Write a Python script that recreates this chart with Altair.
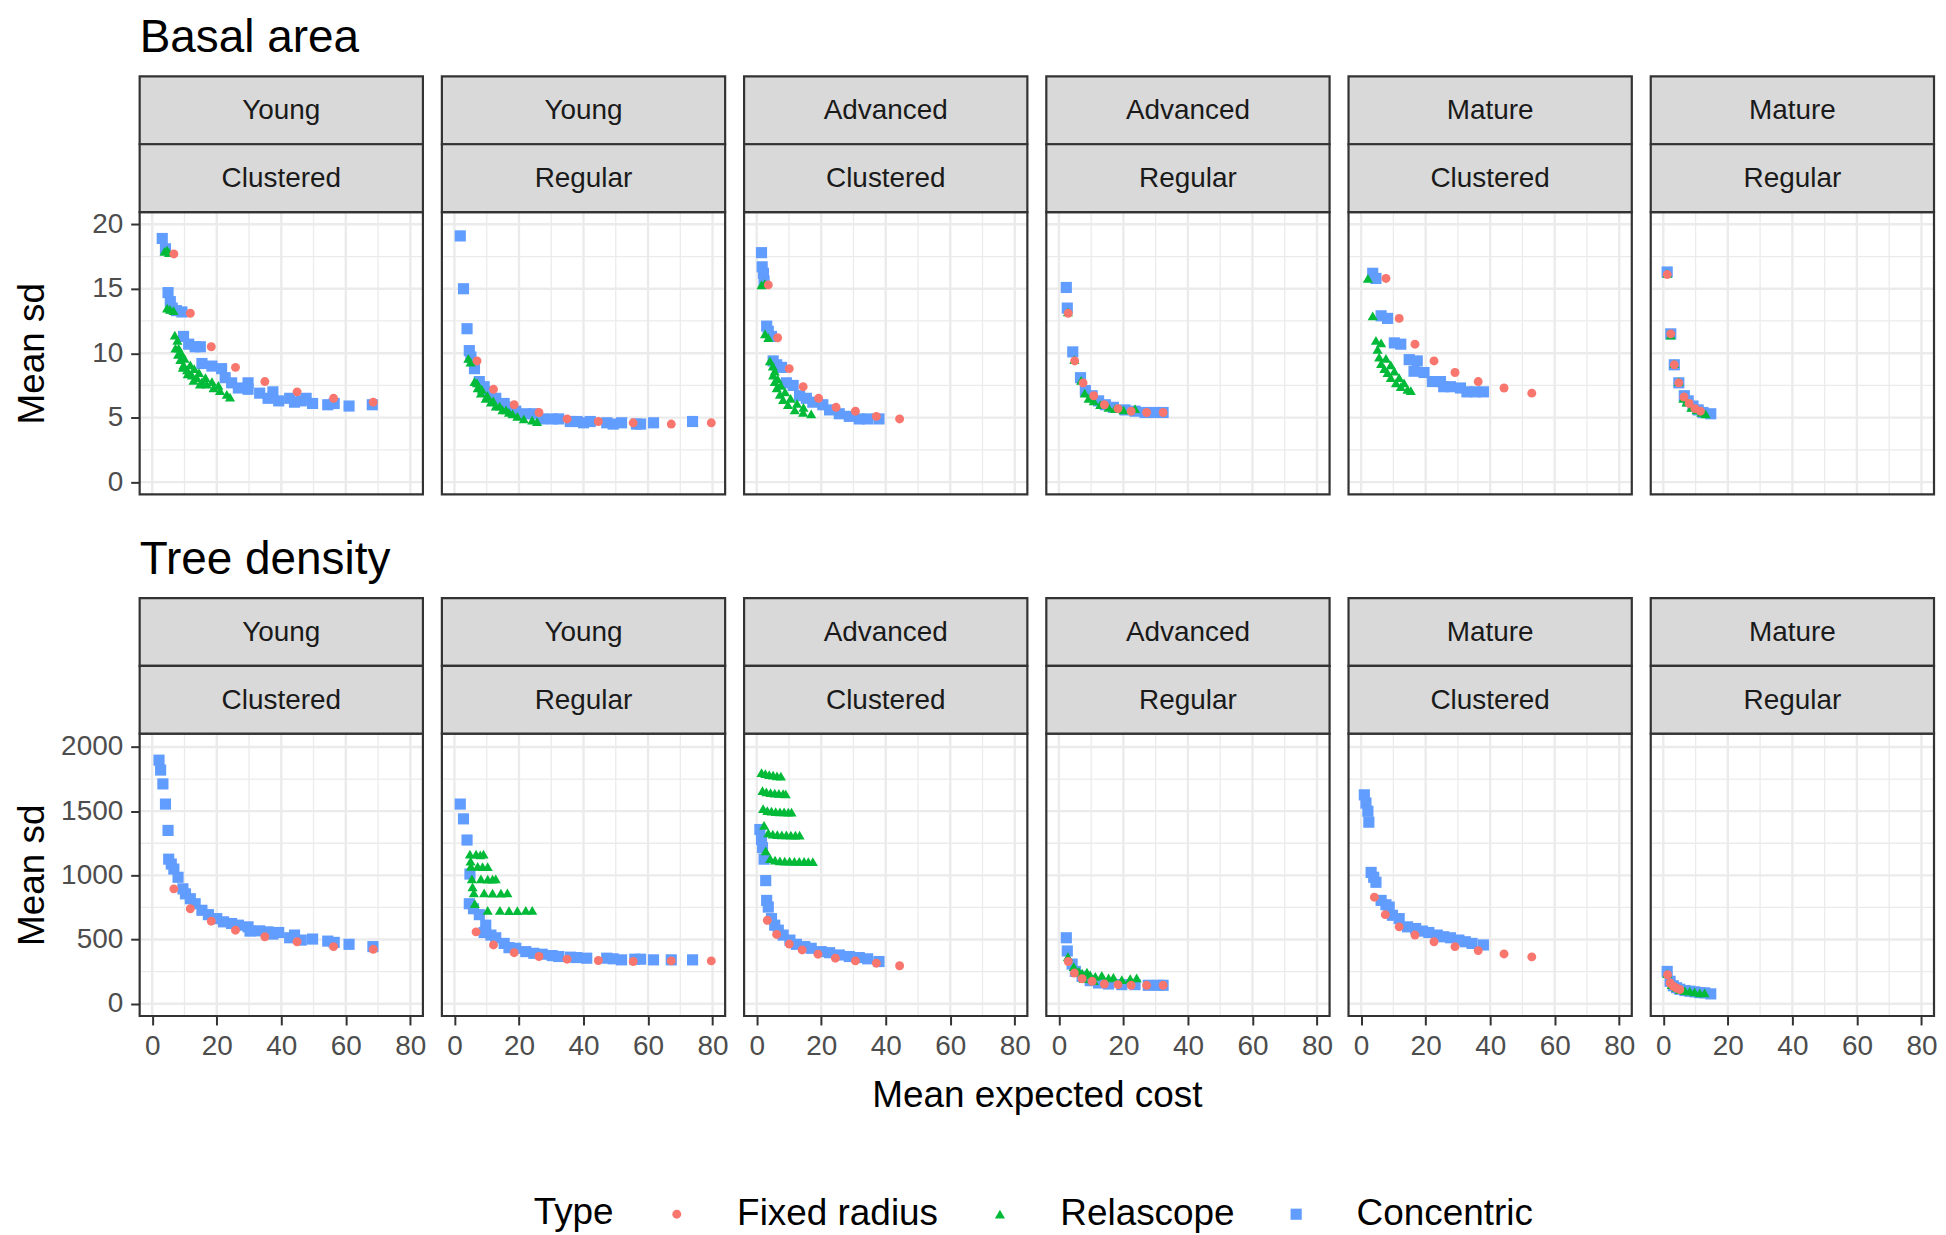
import altair as alt
import pandas as pd

FONT = "Liberation Sans"

TYPES = ["Fixed radius", "Relascope", "Concentric"]
TYPE_COLORS = ["#F8766D", "#00BA38", "#619CFF"]
TYPE_SHAPES = ["circle", "triangle-up", "square"]
TYPE_SIZES = [80, 125, 78]
DRAW_ORDER = ["Concentric", "Relascope", "Fixed radius"]

AGES = ["Young", "Young", "Advanced", "Advanced", "Mature", "Mature"]
PATTERNS = ["Clustered", "Regular", "Clustered", "Regular", "Clustered", "Regular"]

X_MAJOR = [0, 20, 40, 60, 80]
X_MINOR = [10, 30, 50, 70]
X_DOMAIN = [-3.9, 83.9]
BA_MAJOR = [0, 5, 10, 15, 20]
BA_MINOR = [2.5, 7.5, 12.5, 17.5]
BA_DOMAIN = [-0.95, 20.95]
TD_MAJOR = [0, 500, 1000, 1500, 2000]
TD_MINOR = [250, 750, 1250, 1750]
TD_DOMAIN = [-95, 2103]

# ---------------- Basal area ----------------
BA_YC_CONC = [(3.1, 18.9), (4.1, 18.1), (4.9, 14.7), (5.6, 14.0), (6.2, 13.5), (7.5, 13.3), (9.2, 13.2),
              (9.7, 11.3), (11.3, 10.7), (13.3, 10.5), (14.9, 10.5), (15.4, 9.2), (18.5, 9.0), (21.5, 8.8),
              (22.6, 8.1), (24.6, 7.7), (26.7, 7.3), (29.7, 7.7), (29.7, 7.2), (33.3, 6.9), (35.9, 6.5),
              (37.4, 7.0), (39.2, 6.3), (42.6, 6.5), (44.1, 6.2), (46.2, 6.3), (47.7, 6.5), (49.7, 6.1),
              (54.4, 6.0), (56.4, 6.1), (61.0, 5.9), (68.2, 6.0)]
BA_YC_FIXED = [(6.7, 17.7), (11.8, 13.1), (18.3, 10.5), (25.8, 8.9), (34.9, 7.8), (44.9, 7.0), (56.2, 6.5), (68.5, 6.2)]
BA_YC_RELA = [(3.8, 17.9), (4.6, 18.0), (5.2, 17.8), (4.6, 13.5), (5.5, 13.4), (6.6, 13.3), (7.0, 11.4), (7.8, 11.0),
              (7.2, 10.4), (8.0, 9.9), (8.7, 9.5), (9.7, 9.1), (10.8, 8.7), (12.3, 8.3), (13.8, 8.1), (15.4, 7.8),
              (16.9, 7.6), (19.0, 7.3), (21.0, 7.1), (23.1, 6.8), (24.1, 6.6), (8.2, 10.4), (9.0, 10.0),
              (10.0, 9.6), (11.8, 9.1), (13.0, 8.8), (14.5, 8.5), (16.5, 8.1), (18.5, 7.8), (20.5, 7.5),
              (9.5, 8.9), (11.0, 8.4), (12.8, 7.9), (14.8, 7.6)]

BA_YR_CONC = [(1.8, 19.1), (2.8, 15.0), (3.9, 11.9), (4.6, 10.2), (5.1, 9.7), (6.2, 8.8), (7.7, 7.8), (9.2, 7.4),
              (10.8, 7.0), (12.8, 6.5), (15.4, 6.1), (17.0, 5.8), (19.0, 5.5), (22.1, 5.3), (24.6, 5.3),
              (27.2, 4.9), (30.3, 4.9), (32.3, 4.9), (35.9, 4.7), (38.0, 4.7), (40.0, 4.6), (42.1, 4.7),
              (47.2, 4.6), (49.2, 4.5), (51.8, 4.6), (56.4, 4.5), (57.7, 4.5), (61.7, 4.6), (73.8, 4.7)]
BA_YR_FIXED = [(7.0, 9.4), (12.1, 7.2), (18.5, 6.0), (26.2, 5.4), (34.9, 4.9), (44.6, 4.7), (55.4, 4.6), (67.2, 4.5), (79.6, 4.6)]
BA_YR_RELA = [(4.3, 9.6), (5.0, 9.3), (6.2, 7.8), (7.2, 7.3), (8.2, 6.9), (9.7, 6.5), (11.3, 6.2), (12.8, 5.9),
              (14.9, 5.6), (16.9, 5.4), (19.5, 5.1), (21.5, 4.9), (24.1, 4.8), (25.6, 4.7), (7.0, 7.7),
              (8.5, 7.2), (10.2, 6.7), (12.0, 6.3), (14.0, 5.9), (16.0, 5.6), (18.0, 5.3)]

BA_AC_CONC = [(1.5, 17.8), (1.7, 16.7), (2.1, 16.2), (2.3, 15.6), (3.1, 12.1), (3.6, 11.7), (4.6, 11.3), (5.1, 9.4),
              (6.2, 9.1), (7.7, 8.9), (9.2, 7.7), (11.3, 7.5), (13.3, 6.7), (15.4, 6.5), (17.4, 6.2), (20.5, 6.0),
              (22.6, 5.6), (25.6, 5.3), (28.7, 5.1), (31.8, 4.9), (34.4, 4.9), (37.9, 4.9)]
BA_AC_FIXED = [(3.6, 15.3), (6.5, 11.2), (10.1, 8.8), (14.4, 7.4), (19.2, 6.5), (24.6, 5.8), (30.6, 5.5), (37.1, 5.1), (44.3, 4.9)]
BA_AC_RELA = [(1.5, 15.3), (2.5, 15.4), (2.6, 11.5), (3.6, 11.2), (4.1, 9.4), (5.0, 9.0), (5.1, 8.3), (5.6, 7.8),
              (6.2, 7.3), (7.2, 6.8), (8.2, 6.4), (9.7, 6.0), (11.8, 5.6), (14.4, 5.4), (16.9, 5.3), (5.6, 8.6),
              (6.5, 8.0), (7.5, 7.5), (8.8, 7.0), (10.5, 6.5), (12.5, 6.1), (14.5, 5.8)]

BA_AR_CONC = [(2.3, 15.1), (2.6, 13.5), (4.3, 10.1), (6.7, 8.1), (8.2, 7.1), (10.3, 6.7), (12.3, 6.3), (14.4, 6.0),
              (16.9, 5.8), (20.5, 5.6), (23.6, 5.5), (26.7, 5.4), (29.7, 5.4), (32.3, 5.4)]
BA_AR_FIXED = [(2.9, 13.1), (4.9, 9.4), (7.5, 7.7), (10.8, 6.7), (14.1, 6.0), (18.3, 5.7), (22.4, 5.5), (27.2, 5.4), (32.3, 5.4)]
BA_AR_RELA = [(2.8, 13.2), (4.8, 9.5), (6.9, 7.9), (8.0, 6.9), (9.2, 6.5), (10.8, 6.3), (12.8, 6.0), (15.4, 5.8),
              (17.4, 5.7), (20.0, 5.6), (23.6, 5.7)]

BA_MC_CONC = [(3.6, 16.2), (4.6, 15.8), (6.2, 12.9), (8.2, 12.7), (10.3, 10.8), (12.3, 10.7), (14.9, 9.5), (17.4, 9.4),
              (16.4, 8.6), (19.5, 8.5), (22.1, 7.8), (24.6, 7.8), (25.6, 7.4), (27.7, 7.4), (30.8, 7.3), (32.8, 7.0),
              (35.4, 7.0), (37.9, 7.0)]
BA_MC_FIXED = [(7.7, 15.8), (11.8, 12.7), (16.7, 10.7), (22.6, 9.4), (29.1, 8.5), (36.3, 7.8), (44.3, 7.3), (52.9, 6.9)]
BA_MC_RELA = [(2.1, 15.8), (3.6, 12.9), (4.6, 11.0), (6.2, 10.8), (5.1, 10.3), (5.6, 9.7), (6.2, 9.2), (7.2, 8.8),
              (8.2, 8.5), (9.2, 8.1), (10.8, 7.7), (12.3, 7.4), (14.4, 7.2), (15.4, 7.1), (7.7, 9.6), (9.2, 9.1),
              (10.3, 8.6), (11.8, 8.1), (13.3, 7.7)]

BA_MR_CONC = [(1.2, 16.3), (2.3, 11.5), (3.4, 9.1), (4.8, 7.7), (6.5, 6.7), (7.7, 6.3), (9.2, 5.9), (10.8, 5.6),
              (12.3, 5.4), (14.7, 5.3)]
BA_MR_FIXED = [(1.2, 16.1), (2.3, 11.5), (3.4, 9.1), (4.8, 7.7), (6.4, 6.6), (8.0, 6.1), (9.8, 5.7), (11.5, 5.5)]
BA_MR_RELA = [(1.2, 16.2), (2.3, 11.4), (3.4, 9.2), (4.8, 7.8), (6.2, 6.5), (7.2, 6.2), (8.7, 5.8), (10.3, 5.6),
              (11.8, 5.4), (13.1, 5.3)]

# ---------------- Tree density ----------------
TD_YC_CONC = [(2.1, 1897), (2.6, 1820), (3.3, 1712), (4.1, 1555), (4.9, 1350), (5.1, 1126), (5.9, 1088), (6.7, 1049),
              (8.0, 985), (9.5, 895), (10.3, 856), (11.8, 818), (13.3, 779), (15.4, 728), (17.4, 694), (20.0, 663),
              (22.1, 638), (24.6, 625), (26.7, 612), (29.7, 599), (30.3, 566), (33.3, 568), (35.9, 560),
              (37.4, 543), (39.2, 555), (42.6, 514), (44.1, 535), (46.2, 496), (49.7, 504), (54.4, 488),
              (56.4, 478), (61.0, 463), (68.4, 445)]
TD_YC_FIXED = [(6.7, 895), (11.8, 740), (18.3, 643), (25.8, 573), (34.9, 522), (44.9, 483), (56.2, 445), (68.5, 424)]
TD_YC_RELA = []

TD_YR_CONC = [(1.8, 1555), (2.8, 1440), (3.9, 1275), (4.8, 1010), (4.6, 779), (5.9, 740), (7.7, 694), (9.7, 612),
              (9.2, 555), (11.3, 535), (12.8, 514), (15.4, 470), (16.9, 437), (19.0, 432), (22.1, 406), (24.6, 393),
              (27.2, 386), (30.3, 375), (32.3, 368), (35.9, 363), (37.9, 360), (41.0, 355), (47.2, 355),
              (49.2, 350), (51.8, 342), (55.9, 347), (57.7, 347), (61.7, 342), (67.2, 342), (73.8, 342)]
TD_YR_FIXED = [(6.7, 560), (12.1, 458), (18.5, 398), (26.2, 368), (34.9, 347), (44.6, 337), (55.4, 329), (67.2, 334), (79.6, 334)]
TD_YR_RELA = [(4.8, 1165), (6.7, 1165), (8.0, 1160), (9.0, 1165),
              (5.1, 1070), (7.2, 1070), (8.7, 1068), (10.3, 1068),
              (5.4, 972), (8.2, 972), (10.3, 970), (11.8, 970), (12.8, 972),
              (6.0, 864), (9.2, 864), (11.8, 862), (14.4, 862), (16.4, 864),
              (6.3, 780), (10.3, 728), (14.1, 728), (16.9, 725), (19.5, 725), (22.1, 728), (24.1, 728),
              (5.0, 1110), (5.6, 910)]

TD_AC_CONC = [(1.0, 1357), (1.5, 1280), (1.8, 1216), (2.3, 1126), (2.8, 959), (3.1, 805), (3.6, 753), (4.6, 663),
              (5.6, 612), (6.7, 573), (8.2, 535), (10.3, 496), (12.3, 463), (14.9, 445), (16.9, 432), (20.0, 406),
              (22.6, 398), (25.6, 380), (28.7, 368), (31.8, 360), (34.4, 350), (37.9, 329)]
TD_AC_FIXED = [(3.3, 650), (6.2, 540), (10.1, 465), (14.1, 419), (19.0, 386), (24.4, 355), (30.6, 334), (37.1, 316), (44.3, 296)]
TD_AC_RELA = [(1.5, 1800), (2.7, 1792), (3.9, 1785), (5.1, 1780), (6.3, 1775), (7.5, 1772),
              (1.8, 1660), (3.0, 1650), (4.3, 1645), (5.6, 1640), (6.9, 1638), (8.2, 1636), (9.0, 1635),
              (2.0, 1520), (3.3, 1505), (4.6, 1500), (5.9, 1497), (7.2, 1495), (8.5, 1494), (9.8, 1493), (10.8, 1493),
              (2.3, 1390), (3.6, 1330), (5.0, 1322), (6.4, 1318), (7.8, 1316), (9.2, 1315), (10.6, 1314),
              (12.0, 1314), (13.3, 1313),
              (2.8, 1190), (4.2, 1130), (5.7, 1118), (7.2, 1113), (8.7, 1111), (10.2, 1110), (11.7, 1109),
              (13.2, 1108), (14.7, 1108), (16.0, 1107), (17.4, 1107)]

TD_AR_CONC = [(2.3, 514), (2.6, 411), (4.1, 309), (5.1, 252), (7.2, 213), (9.7, 180), (12.3, 162), (15.4, 154),
              (19.5, 149), (23.6, 149), (27.7, 144), (30.8, 144), (32.3, 144)]
TD_AR_FIXED = [(2.9, 329), (4.8, 239), (7.2, 195), (10.3, 175), (14.1, 154), (18.3, 149), (22.4, 144), (27.2, 144), (32.3, 144)]
TD_AR_RELA = [(2.8, 368), (4.6, 290), (6.2, 252), (7.2, 239), (8.7, 247), (9.7, 226), (11.3, 213), (13.3, 221),
              (15.4, 201), (16.9, 206), (19.5, 188), (22.1, 195), (24.1, 201), (7.7, 195), (10.8, 180)]

TD_MC_CONC = [(1.0, 1627), (1.5, 1563), (2.1, 1499), (2.4, 1414), (3.1, 1023), (3.9, 985), (4.6, 946), (6.2, 805),
              (7.7, 771), (8.7, 753), (9.7, 689), (11.8, 663), (14.4, 599), (16.9, 586), (19.0, 566), (21.0, 555),
              (23.6, 535), (25.6, 522), (27.7, 514), (30.3, 496), (32.3, 483), (34.4, 470), (37.9, 458)]
TD_MC_FIXED = [(4.1, 830), (7.5, 694), (11.8, 599), (16.7, 535), (22.6, 483), (29.1, 445), (36.3, 414), (44.3, 388), (52.9, 365)]
TD_MC_RELA = []

TD_MR_CONC = [(1.2, 252), (2.1, 175), (3.1, 140), (4.1, 125), (5.1, 113), (6.7, 103), (8.2, 98), (9.7, 93),
              (11.3, 87), (12.8, 85), (14.7, 77)]
TD_MR_FIXED = [(1.3, 226), (2.1, 162), (3.1, 136), (4.1, 123), (5.1, 111)]
TD_MR_RELA = [(1.2, 234), (2.6, 149), (4.0, 128), (5.1, 111), (6.7, 103), (8.2, 98), (9.7, 93), (11.3, 85), (12.8, 85)]

BA_SERIES = [
    {"Concentric": BA_YC_CONC, "Relascope": BA_YC_RELA, "Fixed radius": BA_YC_FIXED},
    {"Concentric": BA_YR_CONC, "Relascope": BA_YR_RELA, "Fixed radius": BA_YR_FIXED},
    {"Concentric": BA_AC_CONC, "Relascope": BA_AC_RELA, "Fixed radius": BA_AC_FIXED},
    {"Concentric": BA_AR_CONC, "Relascope": BA_AR_RELA, "Fixed radius": BA_AR_FIXED},
    {"Concentric": BA_MC_CONC, "Relascope": BA_MC_RELA, "Fixed radius": BA_MC_FIXED},
    {"Concentric": BA_MR_CONC, "Relascope": BA_MR_RELA, "Fixed radius": BA_MR_FIXED},
]
TD_SERIES = [
    {"Concentric": TD_YC_CONC, "Relascope": TD_YC_RELA, "Fixed radius": TD_YC_FIXED},
    {"Concentric": TD_YR_CONC, "Relascope": TD_YR_RELA, "Fixed radius": TD_YR_FIXED},
    {"Concentric": TD_AC_CONC, "Relascope": TD_AC_RELA, "Fixed radius": TD_AC_FIXED},
    {"Concentric": TD_AR_CONC, "Relascope": TD_AR_RELA, "Fixed radius": TD_AR_FIXED},
    {"Concentric": TD_MC_CONC, "Relascope": TD_MC_RELA, "Fixed radius": TD_MC_FIXED},
    {"Concentric": TD_MR_CONC, "Relascope": TD_MR_RELA, "Fixed radius": TD_MR_FIXED},
]

W, H, SH, GAP = 284, 283, 68, 19
BORDER = "#333333"
GRID = "#EBEBEB"

LEGEND = alt.Legend(
    title="Type", orient="none", legendX=395, legendY=986, direction="horizontal",
    titleOrient="left", titleFont=FONT, titleFontSize=37, titleFontWeight="normal", titleColor="black",
    titlePadding=44, labelFont=FONT, labelFontSize=37, labelColor="black", labelOffset=42, labelLimit=600,
    columnPadding=43, symbolSize=80, symbolStrokeWidth=0, padding=0,
)


def panel(series, age, pattern, major, minor, ydom, first, bottom, xtitle):
    rows = []
    for t in DRAW_ORDER:
        for cx, cy in series[t]:
            rows.append({"cost": cx, "sd": cy, "Type": t, "z": len(rows)})
    df = pd.DataFrame(rows)
    xs = alt.Scale(domain=X_DOMAIN, nice=False, zero=False)
    ys = alt.Scale(domain=ydom, nice=False, zero=False)

    if bottom:
        xkw = dict(values=X_MAJOR, grid=False, domain=False, tickSize=9, tickWidth=2, tickColor=BORDER,
                   labelFont=FONT, labelFontSize=28, labelColor="#4D4D4D", labelPadding=8, format="d")
        if xtitle:
            xaxis = alt.Axis(title="Mean expected cost", titleFont=FONT, titleFontSize=37, titleFontWeight="normal",
                             titleColor="black", titleX=(6 * W + 5 * GAP) / 2 - 2 * (W + GAP), titleY=91,
                             titleBaseline="alphabetic", **xkw)
        else:
            xaxis = alt.Axis(title=None, **xkw)
    else:
        xaxis = None
    if first:
        yaxis = alt.Axis(values=major, grid=False, domain=False, tickSize=9, tickWidth=2, tickColor=BORDER,
                         labelFont=FONT, labelFontSize=28, labelColor="#4D4D4D", labelPadding=8, format="d",
                         title="Mean sd", titleFont=FONT, titleFontSize=37, titleFontWeight="normal",
                         titleColor="black", titleX=-96, titleBaseline="alphabetic")
    else:
        yaxis = None

    def xenc(f):
        return alt.X(f, scale=xs, axis=xaxis)

    def yenc(f):
        return alt.Y(f, scale=ys, axis=yaxis)

    gx_min = alt.Chart(pd.DataFrame({"gx": X_MINOR})).mark_rule(color=GRID, strokeWidth=1.3).encode(x=xenc("gx:Q"))
    gx_maj = alt.Chart(pd.DataFrame({"gx": X_MAJOR})).mark_rule(color=GRID, strokeWidth=2.4).encode(x=xenc("gx:Q"))
    gy_min = alt.Chart(pd.DataFrame({"gy": minor})).mark_rule(color=GRID, strokeWidth=1.3).encode(y=yenc("gy:Q"))
    gy_maj = alt.Chart(pd.DataFrame({"gy": major})).mark_rule(color=GRID, strokeWidth=2.4).encode(y=yenc("gy:Q"))

    pts = alt.Chart(df).mark_point(filled=True, opacity=1).encode(
        x=xenc("cost:Q"),
        y=yenc("sd:Q"),
        color=alt.Color("Type:N", scale=alt.Scale(domain=TYPES, range=TYPE_COLORS), legend=LEGEND),
        shape=alt.Shape("Type:N", scale=alt.Scale(domain=TYPES, range=TYPE_SHAPES), legend=LEGEND),
        size=alt.Size("Type:N", scale=alt.Scale(domain=TYPES, range=TYPE_SIZES), legend=None),
        order=alt.Order("z:Q"),
    )

    border = alt.Chart(pd.DataFrame({"k": [1]})).mark_rect(
        fill="white", fillOpacity=0, stroke=BORDER, strokeWidth=2.2
    ).encode(x=alt.value(0), x2=alt.value(W), y=alt.value(0), y2=alt.value(H))

    layers = [gx_min, gx_maj, gy_min, gy_maj, pts, border]
    for label, y0, y1 in [(age, -2 * SH, -SH), (pattern, -SH, 0)]:
        base = alt.Chart(pd.DataFrame({"label": [label]}))
        layers.append(base.mark_rect(fill="#D9D9D9", stroke=BORDER, strokeWidth=2.2).encode(
            x=alt.value(0), x2=alt.value(W), y=alt.value(y0), y2=alt.value(y1)))
        layers.append(base.mark_text(font=FONT, fontSize=28, color="#1A1A1A", align="center",
                                     baseline="middle").encode(
            x=alt.value(W / 2), y=alt.value((y0 + y1) / 2 + 1), text="label:N"))
    return alt.layer(*layers).properties(width=W, height=H)


def row_title(text):
    return alt.TitleParams(text, anchor="start", frame="group", font=FONT, fontSize=46, fontWeight="normal",
                           color="black", baseline="alphabetic", offset=-23)


row1 = alt.hconcat(
    *[panel(BA_SERIES[i], AGES[i], PATTERNS[i], BA_MAJOR, BA_MINOR, BA_DOMAIN, i == 0, False, False)
      for i in range(6)],
    spacing=GAP, bounds="flush",
).properties(title=row_title("Basal area"))

row2 = alt.hconcat(
    *[panel(TD_SERIES[i], AGES[i], PATTERNS[i], TD_MAJOR, TD_MINOR, TD_DOMAIN, i == 0, True, i == 2)
      for i in range(6)],
    spacing=GAP, bounds="flush",
).properties(title=row_title("Tree density"))

chart = alt.vconcat(
    row1, row2, spacing=39,
    padding={"left": 5, "top": 5, "right": 0, "bottom": 0},
).configure(font=FONT).configure_view(stroke="transparent")

chart.save("out.html", embed_options={"renderer": "svg", "actions": False})
